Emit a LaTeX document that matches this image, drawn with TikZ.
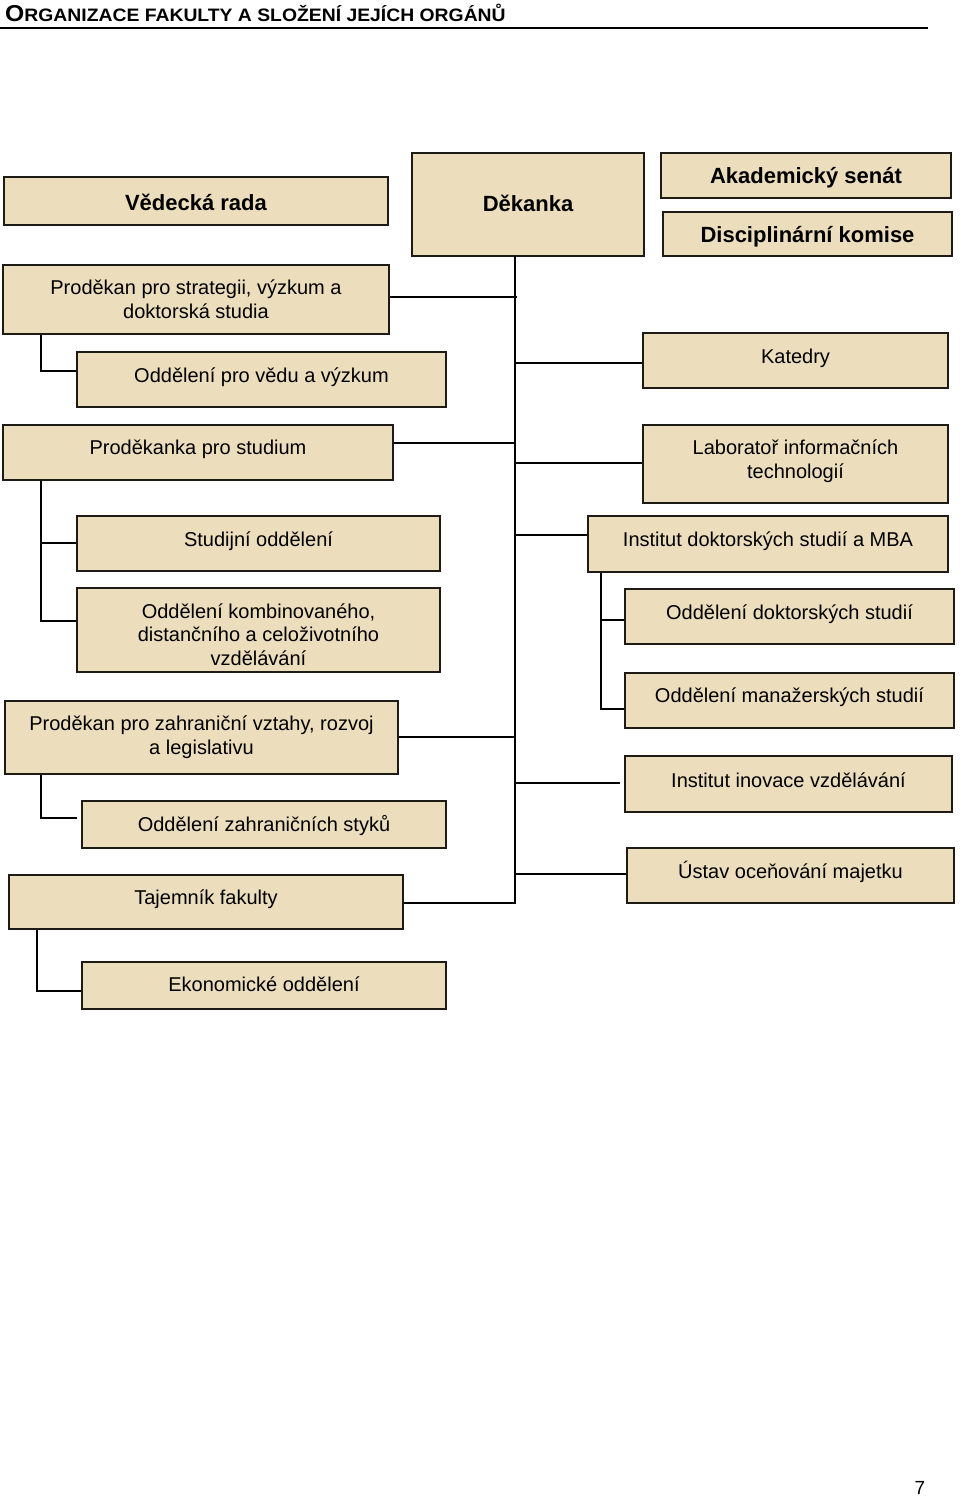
\documentclass[tikz,border=0pt]{standalone}
\usepackage{fontspec}
\setmainfont{Liberation Sans}
\definecolor{parch}{RGB}{236,222,189}
\definecolor{boxline}{RGB}{30,26,22}
\newcommand\orgbox[5]{\node[box, minimum width={#4-#2}, minimum height={#5-#3}] (#1) at ({(#2+#4)/2},{(#3+#5)/2}) {};}
\begin{document}
\begin{tikzpicture}[x=1pt,y=-1pt,
  box/.style={draw=boxline, fill=parch, line width=2pt, inner sep=0pt},
  txt/.style={font=\fontsize{20}{23.5}\selectfont, align=center, inner sep=0pt, anchor=base},
  btxt/.style={font=\bfseries\fontsize{22}{26}\selectfont, inner sep=0pt, anchor=base},
  conn/.style={line width=1.7pt, draw=black}]
\useasboundingbox (0,0) rectangle (960,1497);
% title
\node[anchor=base west, inner sep=0pt] (title) at (5,21)
  {\scalebox{1.075}[1]{\bfseries{\fontsize{23}{23}\selectfont O}{\fontsize{18}{18}\selectfont RGANIZACE FAKULTY A SLOŽENÍ JEJÍCH ORGÁNŮ}}};
\draw[line width=1.7pt] (0,28) -- (928,28);
% boxes
\orgbox{ved}{4}{177}{388}{225}
\orgbox{dek}{412}{153}{644}{256}
\orgbox{aks}{661}{153}{951}{198}
\orgbox{dis}{663}{212}{952}{256}
\orgbox{pstrat}{3}{265}{389}{334}
\orgbox{ovv}{77}{352}{446}{407}
\orgbox{pstud}{3}{425}{393}{480}
\orgbox{stud}{77}{516}{440}{571}
\orgbox{okomb}{77}{588}{440}{672}
\orgbox{pzahr}{5}{701}{398}{774}
\orgbox{ozs}{82}{801}{446}{848}
\orgbox{taj}{9}{875}{403}{929}
\orgbox{eko}{82}{962}{446}{1009}
\orgbox{kat}{643}{333}{948}{388}
\orgbox{lab}{643}{425}{948}{503}
\orgbox{idoc}{588}{516}{948}{572}
\orgbox{odok}{625}{589}{954}{644}
\orgbox{oman}{625}{673}{954}{728}
\orgbox{iinov}{625}{756}{952}{812}
\orgbox{ustav}{627}{848}{954}{903}
% texts
\node[btxt] (tved) at (ved.center |- 0,210) {Vědecká rada};
\node[btxt] (tdek) at (dek.center |- 0,211) {Děkanka};
\node[btxt] (taks) at (aks.center |- 0,183) {Akademický senát};
\node[btxt] (tdis) at (dis.center |- 0,242) {Disciplinární komise};
\node[txt] (tpstrat) at (pstrat.center |- 0,318) {Proděkan pro strategii, výzkum a\\doktorská studia};
\node[txt] (tovv) at (ovv.center |- 0,382) {Oddělení pro vědu a výzkum};
\node[txt] (tpstud) at (pstud.center |- 0,454) {Proděkanka pro studium};
\node[txt] (tstud) at (stud.center |- 0,546) {Studijní oddělení};
\node[txt] (tokomb) at (okomb.center |- 0,665) {Oddělení kombinovaného,\\distančního a celoživotního\\vzdělávání};
\node[txt] (tpzahr) at (pzahr.center |- 0,754) {Proděkan pro zahraniční vztahy, rozvoj\\a legislativu};
\node[txt] (tozs) at (ozs.center |- 0,831) {Oddělení zahraničních styků};
\node[txt] (ttaj) at (taj.center |- 0,904) {Tajemník fakulty};
\node[txt] (teko) at (eko.center |- 0,991) {Ekonomické oddělení};
\node[txt] (tkat) at (kat.center |- 0,363) {Katedry};
\node[txt] (tlab) at (lab.center |- 0,478) {Laboratoř informačních\\technologií};
\node[txt] (tidoc) at (idoc.center |- 0,546) {Institut doktorských studií a MBA};
\node[txt] (todok) at (odok.center |- 0,619) {Oddělení doktorských studií};
\node[txt] (toman) at (oman.center |- 0,702) {Oddělení manažerských studií};
\node[txt] (tiinov) at (iinov.center |- 0,787) {Institut inovace vzdělávání};
\node[txt] (tustav) at (ustav.center |- 0,878) {Ústav oceňování majetku};
% trunk
\coordinate (ttop) at (515,256);
\coordinate (tbot) at (515,903);
\draw[conn] (ttop) -- (tbot) -- (taj.east |- tbot);
\coordinate (h1) at (517,297);
\coordinate (h2) at (515,363);
\coordinate (h3) at (515,443);
\coordinate (h4) at (515,463);
\coordinate (h5) at (515,535);
\coordinate (h6) at (515,737);
\coordinate (h7) at (515,783);
\coordinate (h8) at (515,874);
\draw[conn] (pstrat.east |- h1) -- (h1);
\draw[conn] (h2) -- (kat.west |- h2);
\draw[conn] (pstud.east |- h3) -- (h3);
\draw[conn] (h4) -- (lab.west |- h4);
\draw[conn] (h5) -- (idoc.west |- h5);
\draw[conn] (pzahr.east |- h6) -- (h6);
\draw[conn] (h7) -- ([xshift=-4pt]iinov.west |- h7);
\draw[conn] (h8) -- (ustav.west |- h8);
% sub-branches
\coordinate (s1) at (41,371);
\coordinate (s2) at (41,543);
\coordinate (s3) at (41,621);
\coordinate (s4) at (601,620);
\coordinate (s5) at (601,709);
\coordinate (s6) at (41,818);
\coordinate (s7) at (37,991);
\draw[conn] (pstrat.south -| s1) |- (ovv.west |- s1);
\draw[conn] (pstud.south -| s3) |- (okomb.west |- s3);
\draw[conn] (s2) -- (stud.west |- s2);
\draw[conn] (idoc.south -| s5) |- (oman.west |- s5);
\draw[conn] (s4) -- (odok.west |- s4);
\draw[conn] (pzahr.south -| s6) |- ([xshift=-4pt]ozs.west |- s6);
\draw[conn] (taj.south -| s7) |- (eko.west |- s7);
% page number
\node[anchor=base, inner sep=0pt, font=\fontsize{19}{19}\selectfont] (pg) at (920,1494) {7};
\end{tikzpicture}
\end{document}
